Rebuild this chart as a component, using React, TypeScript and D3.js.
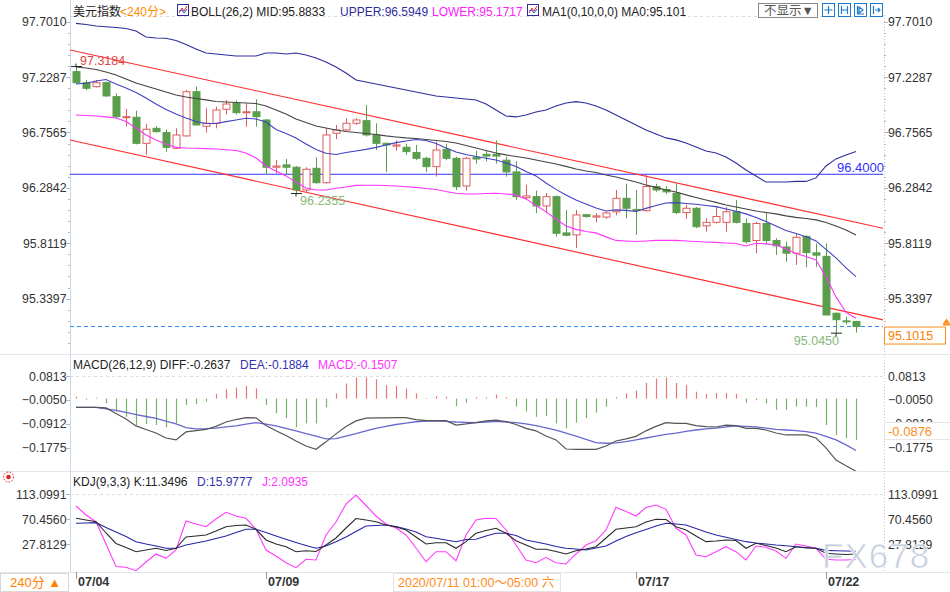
import React, { useEffect, useRef } from "react";
import * as d3 from "d3";

// 240-minute bars of the dollar index, 07/04 .. 07/22
const opens = [
  97.275, 97.181, 97.147, 97.181, 97.062, 96.885, 96.886, 96.664, 96.792, 96.755,
  96.622, 96.727, 97.104, 96.81, 96.835, 96.954, 97.005, 96.925, 96.933, 96.863,
  96.46, 96.48, 96.46, 96.266, 96.451, 96.328, 96.75, 96.778, 96.835, 96.857,
  96.735, 96.664, 96.64, 96.63, 96.585, 96.536, 96.465, 96.613, 96.536, 96.3,
  96.545, 96.57, 96.57, 96.52, 96.42, 96.2, 96.209, 96.13, 96.209, 95.9,
  95.883, 96.055, 96.035, 96.035, 96.08, 96.195, 96.1, 96.09, 96.295, 96.27,
  96.238, 96.073, 96.11, 95.96, 95.99, 95.99, 96.08, 95.98, 95.835, 95.98,
  95.835, 95.78, 95.727, 95.87, 95.73, 95.7, 95.215, 95.15, 95.145,
];
const highs = [
  97.318, 97.204, 97.204, 97.19, 97.091, 96.957, 96.942, 96.829, 96.81, 96.78,
  96.792, 97.119, 97.147, 96.963, 96.976, 97.034, 97.03, 97.005, 97.039, 96.87,
  96.522, 96.53, 96.47, 96.46, 96.545, 96.792, 96.82, 96.877, 96.877, 96.991,
  96.835, 96.67, 96.69, 96.66, 96.65, 96.55, 96.678, 96.66, 96.55, 96.55,
  96.6, 96.6, 96.69, 96.55, 96.51, 96.31, 96.26, 96.24, 96.22, 96.096,
  96.096, 96.06, 96.07, 96.08, 96.266, 96.32, 96.266, 96.394, 96.32, 96.3,
  96.32, 96.14, 96.12, 96.025, 96.12, 96.12, 96.18, 96.025, 95.995, 96.07,
  95.855, 95.825, 95.897, 95.88, 95.81, 95.81, 95.22, 95.185, 95.15,
];
const lows = [
  97.17, 97.118, 97.14, 97.06, 96.88, 96.806, 96.655, 96.565, 96.755, 96.593,
  96.615, 96.72, 96.82, 96.755, 96.792, 96.91, 96.91, 96.806, 96.806, 96.394,
  96.408, 96.4, 96.2355, 96.25, 96.32, 96.32, 96.7, 96.77, 96.82, 96.721,
  96.607, 96.42, 96.6, 96.565, 96.52, 96.42, 96.38, 96.52, 96.266, 96.26,
  96.49, 96.51, 96.49, 96.38, 96.181, 96.18, 96.068, 96.068, 95.868, 95.87,
  95.77, 96.03, 95.99, 96.02, 96.05, 96.025, 95.883, 96.08, 96.25, 96.23,
  96.06, 96.02, 95.94, 95.91, 95.98, 95.91, 95.98, 95.81, 95.727, 95.81,
  95.712, 95.655, 95.627, 95.607, 95.61, 95.2, 95.045, 95.12, 95.05,
];
const closes = [
  97.181, 97.133, 97.181, 97.068, 96.891, 96.891, 96.664, 96.784, 96.763, 96.63,
  96.735, 97.104, 96.82, 96.835, 96.948, 96.999, 96.925, 96.933, 96.891, 96.46,
  96.47, 96.46, 96.266, 96.443, 96.328, 96.735, 96.778, 96.835, 96.863, 96.735,
  96.664, 96.65, 96.65, 96.593, 96.536, 96.465, 96.607, 96.536, 96.294, 96.536,
  96.53, 96.555, 96.555, 96.42, 96.209, 96.215, 96.13, 96.209, 95.897, 95.88,
  96.053, 96.04, 96.045, 96.07, 96.195, 96.11, 96.09, 96.295, 96.266, 96.25,
  96.073, 96.11, 95.953, 95.99, 96.04, 96.08, 95.99, 95.825, 95.98, 95.835,
  95.79, 95.727, 95.863, 95.732, 95.71, 95.2, 95.16, 95.145, 95.1015,
];

// BOLL(26,2) bands and the 10-bar average
const bollUpper = [
  97.687, 97.677, 97.664, 97.658, 97.652, 97.643, 97.622, 97.571, 97.562, 97.56,
  97.541, 97.507, 97.468, 97.434, 97.426, 97.417, 97.409, 97.409, 97.409, 97.434,
  97.434, 97.426, 97.434, 97.417, 97.392, 97.357, 97.315, 97.264, 97.204, 97.187,
  97.17, 97.153, 97.136, 97.119, 97.102, 97.085, 97.068, 97.059, 97.051, 97.042,
  97.034, 96.999, 96.948, 96.897, 96.889, 96.906, 96.931, 96.948, 96.982, 97.008,
  97.019, 97.008, 96.982, 96.948, 96.906, 96.863, 96.82, 96.778, 96.744, 96.71,
  96.693, 96.667, 96.633, 96.599, 96.582, 96.548, 96.496, 96.437, 96.386, 96.334,
  96.334, 96.334, 96.339, 96.339, 96.369, 96.471, 96.531, 96.565, 96.595,
];
const bollMid = [
  97.315, 97.306, 97.294, 97.272, 97.247, 97.213, 97.178, 97.153, 97.127, 97.102,
  97.076, 97.059, 97.046, 97.034, 97.021, 97.016, 97.012, 97.008, 97.004, 96.982,
  96.948, 96.914, 96.871, 96.842, 96.812, 96.795, 96.778, 96.765, 96.756, 96.748,
  96.739, 96.727, 96.718, 96.71, 96.705, 96.697, 96.688, 96.68, 96.667, 96.646,
  96.624, 96.603, 96.582, 96.565, 96.552, 96.539, 96.522, 96.505, 96.488, 96.467,
  96.445, 96.428, 96.415, 96.394, 96.377, 96.356, 96.334, 96.309, 96.288, 96.266,
  96.249, 96.224, 96.202, 96.181, 96.16, 96.138, 96.121, 96.104, 96.087, 96.074,
  96.062, 96.045, 96.032, 96.023, 96.011, 95.989, 95.959, 95.925, 95.883,
];
const bollLower = [
  96.906, 96.901, 96.897, 96.889, 96.88, 96.85, 96.795, 96.735, 96.693, 96.658,
  96.629, 96.624, 96.622, 96.619, 96.616, 96.609, 96.603, 96.582, 96.539, 96.471,
  96.428, 96.386, 96.334, 96.283, 96.266, 96.266, 96.281, 96.292, 96.305, 96.306,
  96.306, 96.304, 96.3, 96.294, 96.288, 96.279, 96.27, 96.253, 96.238, 96.232,
  96.232, 96.236, 96.238, 96.232, 96.224, 96.19, 96.134, 96.079, 96.019, 95.959,
  95.93, 95.912, 95.9, 95.866, 95.836, 95.831, 95.826, 95.831, 95.836, 95.836,
  95.836, 95.831, 95.827, 95.823, 95.819, 95.814, 95.81, 95.789, 95.812, 95.806,
  95.797, 95.763, 95.725, 95.699, 95.67, 95.525, 95.354, 95.222, 95.172,
];
const ma10 = [
  97.17, 97.176, 97.196, 97.208, 97.17, 97.136, 97.097, 97.051, 96.999, 96.953,
  96.914, 96.88, 96.85, 96.833, 96.833, 96.849, 96.863, 96.878, 96.871, 96.846,
  96.782, 96.748, 96.71, 96.658, 96.612, 96.579, 96.569, 96.586, 96.599, 96.612,
  96.629, 96.65, 96.67, 96.684, 96.697, 96.688, 96.663, 96.624, 96.59, 96.569,
  96.552, 96.537, 96.522, 96.496, 96.467, 96.424, 96.386, 96.326, 96.271, 96.224,
  96.181, 96.147, 96.113, 96.087, 96.096, 96.092, 96.083, 96.109, 96.134, 96.155,
  96.158, 96.151, 96.144, 96.134, 96.124, 96.104, 96.085, 96.062, 96.032, 95.998,
  95.959, 95.921, 95.895, 95.868, 95.832, 95.759, 95.687, 95.601, 95.527,
];

// MACD(26,12,9)
const diffValues = [
  -0.032, -0.032, -0.032, -0.034, -0.054, -0.074, -0.099, -0.112, -0.125, -0.143,
  -0.15, -0.121, -0.116, -0.112, -0.101, -0.085, -0.076, -0.069, -0.07, -0.098,
  -0.117, -0.134, -0.154, -0.172, -0.184, -0.157, -0.128, -0.101, -0.081, -0.071,
  -0.07, -0.07, -0.069, -0.069, -0.076, -0.08, -0.08, -0.08, -0.096, -0.092,
  -0.087, -0.081, -0.078, -0.083, -0.094, -0.108, -0.117, -0.136, -0.15, -0.183,
  -0.184, -0.184, -0.184, -0.172, -0.154, -0.146, -0.137, -0.117, -0.101, -0.087,
  -0.09, -0.09, -0.098, -0.102, -0.103, -0.096, -0.098, -0.108, -0.108, -0.114,
  -0.125, -0.132, -0.132, -0.132, -0.143, -0.179, -0.223, -0.244, -0.2637,
];
const deaValues = [
  -0.032, -0.032, -0.032, -0.037, -0.043, -0.05, -0.058, -0.065, -0.072, -0.082,
  -0.092, -0.105, -0.11, -0.109, -0.107, -0.103, -0.099, -0.093, -0.087, -0.093,
  -0.099, -0.108, -0.117, -0.127, -0.136, -0.146, -0.145, -0.136, -0.127, -0.117,
  -0.108, -0.101, -0.094, -0.089, -0.084, -0.082, -0.081, -0.083, -0.085, -0.086,
  -0.087, -0.085, -0.083, -0.085, -0.087, -0.092, -0.098, -0.106, -0.114, -0.125,
  -0.136, -0.148, -0.16, -0.162, -0.161, -0.156, -0.15, -0.143, -0.136, -0.13,
  -0.125, -0.119, -0.114, -0.11, -0.107, -0.103, -0.099, -0.101, -0.103, -0.107,
  -0.112, -0.114, -0.116, -0.12, -0.125, -0.137, -0.15, -0.168, -0.1884,
];
const macdBars = [
  0.007, -0.004, 0.003, -0.017, -0.047, -0.066, -0.096, -0.092, -0.096, -0.104,
  -0.09, -0.023, -0.02, -0.011, 0.017, 0.034, 0.04, 0.046, 0.037, -0.023,
  -0.053, -0.071, -0.104, -0.09, -0.09, -0.032, 0.019, 0.055, 0.077, 0.077,
  0.07, 0.049, 0.046, 0.037, 0.019, 0.002, 0.009, 0.007, -0.027, -0.015,
  0.005, 0.004, 0.015, 0.005, -0.029, -0.047, -0.066, -0.063, -0.09, -0.108,
  -0.087, -0.071, -0.051, -0.029, 0.005, 0.019, 0.029, 0.057, 0.073, 0.077,
  0.057, 0.049, 0.025, 0.017, 0.021, 0.021, 0.017, -0.015, -0.005, -0.017,
  -0.041, -0.041, -0.029, -0.029, -0.031, -0.096, -0.132, -0.144, -0.1507,
];

// KDJ(9,3,3)
const kValues = [
  72.2, 69.3, 66.4, 47.1, 29.2, 22.4, 15.2, 18.1, 21.0, 17.2,
  21.0, 40.3, 42.0, 43.7, 50.5, 57.8, 59.9, 60.7, 53.4, 35.2,
  28.3, 23.7, 15.2, 16.9, 15.5, 26.6, 38.6, 55.6, 71.8, 69.3,
  66.4, 60.7, 57.3, 52.2, 40.3, 28.3, 30.5, 30.5, 21.0, 32.3,
  46.6, 51.4, 55.1, 46.6, 34.0, 26.6, 19.3, 19.3, 15.5, 11.3,
  16.9, 19.8, 23.7, 38.6, 53.4, 55.6, 57.8, 65.9, 70.5, 70.1,
  57.8, 52.2, 42.0, 32.3, 33.4, 35.2, 34.3, 21.0, 29.5, 25.8,
  21.5, 15.2, 23.7, 22.4, 21.0, 12.5, 11.3, 10.4, 11.3496,
];
const dValues = [
  63.6, 64.1, 64.7, 56.5, 48.8, 41.1, 32.3, 28.3, 24.9, 21.0,
  21.0, 26.6, 30.0, 33.4, 37.7, 42.0, 47.9, 53.4, 53.4, 47.9,
  42.0, 36.3, 30.9, 25.8, 21.0, 24.9, 32.3, 40.3, 49.7, 59.0,
  59.9, 60.7, 58.2, 53.9, 48.8, 40.8, 38.1, 35.2, 32.3, 36.0,
  36.3, 42.0, 46.6, 46.6, 42.8, 35.2, 31.7, 28.3, 24.1, 21.0,
  19.8, 18.1, 21.5, 24.9, 33.4, 41.1, 47.6, 53.1, 59.0, 63.6,
  62.4, 60.7, 54.8, 48.8, 43.7, 39.8, 36.0, 32.3, 30.0, 28.3,
  26.6, 25.3, 23.7, 21.5, 21.0, 17.5, 16.8, 16.3, 15.9777,
];
const jValues = [
  93.1, 77.8, 66.4, 28.3, -10.1, -11.4, -17.2, -2.4, 11.3, 3.9,
  18.1, 67.6, 62.4, 57.8, 71.0, 82.4, 76.1, 72.2, 53.4, 18.1,
  7.9, -3.6, -12.1, 2.2, 1.0, 43.7, 65.9, 96.6, 111.9, 94.0,
  76.1, 62.4, 55.6, 43.7, 21.5, -1.9, 15.2, 15.2, -0.2, 43.7,
  69.3, 72.2, 71.8, 52.2, 26.6, 1.0, -3.6, 5.7, -3.6, -5.8,
  11.3, 26.6, 34.0, 52.2, 90.9, 83.8, 76.1, 90.6, 94.8, 87.5,
  55.1, 43.7, 9.6, 6.7, 15.2, 23.7, 15.2, 1.0, 24.9, 22.7,
  16.4, 3.9, 28.3, 24.9, 21.0, 2.2, 1.0, 1.0, 2.0935,
];

// Axis ticks and labels
const priceTicks = [97.701, 97.2287, 96.7565, 96.2842, 95.8119, 95.3397];
const macdTicks = [0.0813, -0.005, -0.0912, -0.1775];
const kdjTicks = [113.0991, 70.456, 27.8129];
const dateIndex = [0, 19, 56, 75];
const dateText = ["07/04", "07/09", "07/17", "07/22"];

// Drawn objects: channel lines as [bar, price] ends, level line, last close
const channelLines = [
  [[-0.6, 97.46], [80.7, 95.94]],
  [[-0.6, 96.692], [80.7, 95.158]],
];
const levelPrice = 96.4;
const lastClose = 95.1015;
const highMark = { index: 0, value: 97.3184 };
const lowMarks = [
  { index: 22, value: 96.2355 },
  { index: 76, value: 95.045 },
];

const FONT = '"Liberation Sans", "Noto Sans CJK SC", Arial, sans-serif';

/** Draws the whole chart into the svg node with D3. */
function drawChart(node: SVGSVGElement) {
  const svg = d3.select(node);
  svg.selectAll("*").remove();

  const plotLeft = 70;
  const plotRight = 883;
  const n = closes.length;

  // Scales fitted to where the tick labels sit
  const x = d3.scaleLinear().domain([0, n - 1]).range([76, 856]);
  const yMain = d3.scaleLinear().domain([95.3397, 97.701]).range([298.6, 21.7]);
  const yMacd = d3.scaleLinear().domain([-0.1775, 0.0813]).range([447.5, 376.2]);
  const yKdj = d3.scaleLinear().domain([27.8129, 113.0991]).range([544.3, 494.3]);

  const panels = [
    { id: "main", top: 15, bottom: 354 },
    { id: "macd", top: 355, bottom: 471 },
    { id: "kdj", top: 472, bottom: 572 },
  ];

  svg.append("rect").attr("width", 950).attr("height", 592).attr("fill", "#fff");

  const defs = svg.append("defs");
  panels.forEach((p) => {
    defs
      .append("clipPath")
      .attr("id", "clip-" + p.id)
      .append("rect")
      .attr("x", plotLeft)
      .attr("y", p.top)
      .attr("width", plotRight - plotLeft)
      .attr("height", p.bottom - p.top);
  });

  const label = (
    g: any,
    px: number,
    py: number,
    str: string,
    color: string,
    anchor = "start",
    size = 12.5,
    weight = "normal"
  ) =>
    g
      .append("text")
      .attr("x", px)
      .attr("y", py)
      .attr("fill", color)
      .attr("text-anchor", anchor)
      .style("font-family", FONT)
      .style("font-size", size + "px")
      .style("font-weight", weight)
      .text(str);

  // Panel separators
  [354.5, 471.5, 572.5].forEach((yy) => {
    svg.append("line").attr("x1", 0).attr("x2", 950).attr("y1", yy).attr("y2", yy)
      .attr("stroke", "#e2e7ed");
  });

  // Dashed top lines of the panels
  [15.5, yMacd(0.0813), yKdj(113.0991)].forEach((yy) => {
    svg.append("line").attr("x1", plotLeft).attr("x2", plotRight)
      .attr("y1", Math.round(yy) + 0.5).attr("y2", Math.round(yy) + 0.5)
      .attr("stroke", "#dcdcdc").attr("stroke-dasharray", "3,3");
  });

  // Left and right axis lines
  svg.append("line").attr("x1", plotLeft + 0.5).attr("x2", plotLeft + 0.5)
    .attr("y1", 0).attr("y2", 572).attr("stroke", "#cbd9e6");
  svg.append("line").attr("x1", plotRight + 1.5).attr("x2", plotRight + 1.5)
    .attr("y1", 15).attr("y2", 572).attr("stroke", "#c8c8c8").attr("stroke-dasharray", "1,2");

  // Minor ticks on the main price axis
  const step = (yMain(95.3397) - yMain(97.701)) / 25;
  d3.range(-1, 30).forEach((k) => {
    const yy = Math.round(yMain(97.701) + k * step) + 0.5;
    if (yy < 16 || yy > 352) return;
    const major = k % 5 === 0;
    svg.append("line").attr("x1", plotLeft - (major ? 4 : 2)).attr("x2", plotLeft)
      .attr("y1", yy).attr("y2", yy).attr("stroke", "#a9bccd");
    svg.append("line").attr("x1", plotRight + 1).attr("x2", plotRight + (major ? 5 : 3))
      .attr("y1", yy).attr("y2", yy).attr("stroke", "#b8b8b8");
  });

  // Tick labels on both sides
  const fmt = d3.format(".4f");
  const tickSets: [number[], any][] = [
    [priceTicks, yMain],
    [macdTicks, yMacd],
    [kdjTicks, yKdj],
  ];
  tickSets.forEach(([ticks, scale]) => {
    ticks.forEach((t) => {
      label(svg, 66.5, scale(t) + 4.5, fmt(t), "#333", "end", 12.3);
      label(svg, 888, scale(t) + 4.5, fmt(t), "#333", "start", 12.3);
      svg.append("line").attr("x1", plotLeft - 4).attr("x2", plotLeft)
        .attr("y1", Math.round(scale(t)) + 0.5).attr("y2", Math.round(scale(t)) + 0.5)
        .attr("stroke", "#a9bccd");
    });
  });

  // ---- Main panel ----
  const main = svg.append("g").attr("clip-path", "url(#clip-main)");

  // Horizontal level line
  main.append("line").attr("x1", plotLeft).attr("x2", plotRight)
    .attr("y1", yMain(levelPrice)).attr("y2", yMain(levelPrice))
    .attr("stroke", "#3030ff").attr("stroke-width", 1.2);

  // Last close dashed line
  main.append("line").attr("x1", plotLeft).attr("x2", plotRight)
    .attr("y1", yMain(lastClose)).attr("y2", yMain(lastClose))
    .attr("stroke", "#2a8cf0").attr("stroke-dasharray", "4,3");

  // Channel lines
  channelLines.forEach(([a, b]) => {
    main.append("line")
      .attr("x1", x(a[0])).attr("y1", yMain(a[1]))
      .attr("x2", x(b[0])).attr("y2", yMain(b[1]))
      .attr("stroke", "#ff2a2a").attr("stroke-width", 1.1);
  });

  // Candles: red hollow when up, green filled when down
  const upColor = "#e05c5c";
  const downColor = "#5a9e4c";
  d3.range(n).forEach((i) => {
    const cx = Math.round(x(i)) + 0.5;
    const up = closes[i] >= opens[i];
    const top = yMain(Math.max(opens[i], closes[i]));
    const bottom = yMain(Math.min(opens[i], closes[i]));
    const color = up ? upColor : downColor;
    main.append("line").attr("x1", cx).attr("x2", cx)
      .attr("y1", yMain(highs[i])).attr("y2", yMain(lows[i]))
      .attr("stroke", color);
    main.append("rect")
      .attr("x", cx - 3.5).attr("y", top)
      .attr("width", 7).attr("height", Math.max(1, bottom - top))
      .attr("fill", up ? "#fff" : downColor)
      .attr("stroke", color);
  });

  // Indicator lines
  const lineOf = (values: number[], scale: any) =>
    d3.line<number>().x((_, i) => x(i)).y((d) => scale(d))(values);

  const mainLines: [number[], string][] = [
    [bollUpper, "#2e2e9e"],
    [bollMid, "#444444"],
    [ma10, "#4242c2"],
    [bollLower, "#ff35ff"],
  ];
  mainLines.forEach(([values, color]) => {
    main.append("path").attr("d", lineOf(values, yMain))
      .attr("fill", "none").attr("stroke", color).attr("stroke-width", 1.1);
  });

  // High and low marks
  const hx = x(highMark.index);
  const hy = yMain(highMark.value);
  svg.append("path").attr("d", `M${hx - 5},${hy}H${hx + 6}M${hx},${hy - 3}V${hy}`)
    .attr("stroke", "#222").attr("fill", "none");
  label(svg, hx + 4, hy - 1.5, fmt(highMark.value), "#e04848");

  lowMarks.forEach((m, k) => {
    const lx = x(m.index);
    const ly = yMain(m.value);
    svg.append("path").attr("d", `M${lx - 5},${ly}H${lx + 6}M${lx},${ly}V${ly + 3}`)
      .attr("stroke", "#222").attr("fill", "none");
    if (k === 0) label(svg, lx + 4, ly + 11, fmt(m.value), "#86b878");
    else label(svg, lx + 3, ly + 12, fmt(m.value), "#86b878", "end");
  });

  label(svg, plotRight + 1, yMain(levelPrice) - 2.5, fmt(levelPrice), "#3030ff", "end", 13);

  // Last close tag on the right
  const cy = yMain(lastClose);
  svg.append("rect").attr("x", 884.5).attr("y", cy + 0.5).attr("width", 61).attr("height", 17)
    .attr("fill", "#fff").attr("stroke", "#ff8c1a");
  label(svg, 888, cy + 13.5, fmt(lastClose), "#ff8000");
  svg.append("path").attr("d", `M943,${cy - 3}L946.5,${cy - 8}L950,${cy - 3}Z`).attr("fill", "#ff8c1a");
  svg.append("rect").attr("x", 943).attr("y", cy - 3).attr("width", 7).attr("height", 2).attr("fill", "#ff8c1a");

  // ---- MACD panel ----
  const macd = svg.append("g").attr("clip-path", "url(#clip-macd)");
  d3.range(n).forEach((i) => {
    const v = macdBars[i];
    const cx = Math.round(x(i)) + 0.5;
    macd.append("line").attr("x1", cx).attr("x2", cx)
      .attr("y1", yMacd(0)).attr("y2", yMacd(v))
      .attr("stroke", v >= 0 ? "#e87878" : "#72b564").attr("stroke-width", 1.2);
  });
  macd.append("path").attr("d", lineOf(deaValues, yMacd))
    .attr("fill", "none").attr("stroke", "#6868cf").attr("stroke-width", 1.3);
  macd.append("path").attr("d", lineOf(diffValues, yMacd))
    .attr("fill", "none").attr("stroke", "#555").attr("stroke-width", 1.2);

  // Cursor value tag on the MACD axis
  svg.append("rect").attr("x", 884.5).attr("y", 422.5).attr("width", 66).attr("height", 17)
    .attr("fill", "#fff").attr("stroke", "#e6e6e6");
  label(svg, 888, 435.5, "-0.0876", "#ff8c1a", "start", 13);

  // ---- KDJ panel ----
  const kdj = svg.append("g").attr("clip-path", "url(#clip-kdj)");
  const kdjLines: [number[], string][] = [
    [jValues, "#ff3cff"],
    [dValues, "#2727a6"],
    [kValues, "#2b2b2b"],
  ];
  kdjLines.forEach(([values, color]) => {
    kdj.append("path").attr("d", lineOf(values, yKdj))
      .attr("fill", "none").attr("stroke", color).attr("stroke-width", 1.1);
  });

  // Watermark
  svg.append("text").attr("x", 822).attr("y", 568)
    .attr("fill", "#c6cfdc").attr("stroke", "#fff").attr("stroke-width", 0.6)
    .style("font-family", FONT).style("font-size", "35px").style("letter-spacing", "1px")
    .text("FX678");

  // ---- Headers ----
  const hs = 12;
  label(svg, 73, 15.5, "美元指数", "#222", "start", hs);
  label(svg, 120, 15.5, "<240分>", "#ff8c00", "start", hs);
  const icon = (ix: number) => {
    svg.append("rect").attr("x", ix + 0.5).attr("y", 4.5).attr("width", 11).attr("height", 11)
      .attr("fill", "#fff").attr("stroke", "#2a2a9a");
    svg.append("path").attr("d", `M${ix + 2},${13}L${ix + 5},${8}L${ix + 7},${11}L${ix + 10},${6}`)
      .attr("fill", "none").attr("stroke", "#e03030");
    svg.append("path").attr("d", `M${ix + 2},${11}L${ix + 5},${10}L${ix + 7},${13}L${ix + 10},${9}`)
      .attr("fill", "none").attr("stroke", "#3050d0");
  };
  icon(177);
  label(svg, 191, 15.5, "BOLL(26,2) MID:95.8833", "#222", "start", hs);
  label(svg, 340, 15.5, "UPPER:96.5949", "#2e2e9e", "start", hs);
  label(svg, 432, 15.5, "LOWER:95.1717", "#ff1aff", "start", hs);
  icon(527);
  label(svg, 542, 15.5, "MA1(0,10,0,0) MA0:95.101", "#222", "start", hs);

  // Toolbar on the right of the header
  svg.append("rect").attr("x", 758.5).attr("y", 3.5).attr("width", 59).attr("height", 14)
    .attr("fill", "#fff").attr("stroke", "#8a8a8a");
  label(svg, 764, 15, "不显示▼", "#555", "start", 12.5);
  [822, 838, 854, 870].forEach((bx, k) => {
    svg.append("rect").attr("x", bx + 0.5).attr("y", 3.5).attr("width", 12).attr("height", 13)
      .attr("fill", "#fff").attr("stroke", "#1b79d0");
    const g = svg.append("path").attr("fill", "none").attr("stroke", "#1b79d0").attr("stroke-width", 1.2);
    if (k === 0) g.attr("d", `M${bx + 6.5},6V14M${bx + 2.5},10H${bx + 10.5}`);
    if (k === 1) g.attr("d", `M${bx + 3.5},6V14M${bx + 9.5},6V14M${bx + 3.5},10H${bx + 9.5}`);
    if (k === 2) g.attr("d", `M${bx + 3.5},6V14H${bx + 10}M${bx + 5},7L${bx + 9},10L${bx + 5},13Z`);
    if (k === 3) g.attr("d", `M${bx + 3.5},6V14M${bx + 5},10H${bx + 10}M${bx + 8},8L${bx + 10},10L${bx + 8},12`);
  });

  label(svg, 73, 368.5, "MACD(26,12,9) DIFF:-0.2637", "#222", "start", hs);
  label(svg, 240, 368.5, "DEA:-0.1884", "#3232b4", "start", hs);
  label(svg, 318, 368.5, "MACD:-0.1507", "#ff33ff", "start", hs);

  label(svg, 73, 486, "KDJ(9,3,3) K:11.3496", "#222", "start", hs);
  label(svg, 197, 486, "D:15.9777", "#3232b4", "start", hs);
  label(svg, 262, 486, "J:2.0935", "#ff33ff", "start", hs);

  // Red marker at the left of the KDJ header
  svg.append("circle").attr("cx", 8.5).attr("cy", 477).attr("r", 2.3).attr("fill", "#e02020");
  svg.append("circle").attr("cx", 8.5).attr("cy", 477).attr("r", 5).attr("fill", "none")
    .attr("stroke", "#e02020").attr("stroke-dasharray", "1.5,1.5");

  // ---- Date axis ----
  dateIndex.forEach((di, k) => {
    const dx = Math.round(x(di)) + 0.5;
    svg.append("line").attr("x1", dx).attr("x2", dx).attr("y1", 572).attr("y2", 579)
      .attr("stroke", "#999");
    label(svg, dx + 1.5, 586, dateText[k], "#333", "start", 12.5, "bold");
  });

  svg.append("rect").attr("x", 0.5).attr("y", 573.5).attr("width", 68).attr("height", 18)
    .attr("fill", "#fff").attr("stroke", "#d8d8d8");
  label(svg, 10, 587, "240分 ▲", "#ff8000", "start", 13);

  svg.append("rect").attr("x", 393.5).attr("y", 573.5).attr("width", 167).attr("height", 18)
    .attr("fill", "#fff").attr("stroke", "#e3e3e3");
  label(svg, 398, 586.5, "2020/07/11 01:00～05:00 六", "#ff8c1a", "start", 12.5);
}

export default function App() {
  const ref = useRef<SVGSVGElement>(null);

  /** Draws the chart once the component is mounted. */
  useEffect(() => {
    if (ref.current) drawChart(ref.current);
  }, []);

  return (
    <svg
      ref={ref}
      width={950}
      height={592}
      style={{ position: "absolute", left: 0, top: 0, display: "block" }}
    />
  );
}
